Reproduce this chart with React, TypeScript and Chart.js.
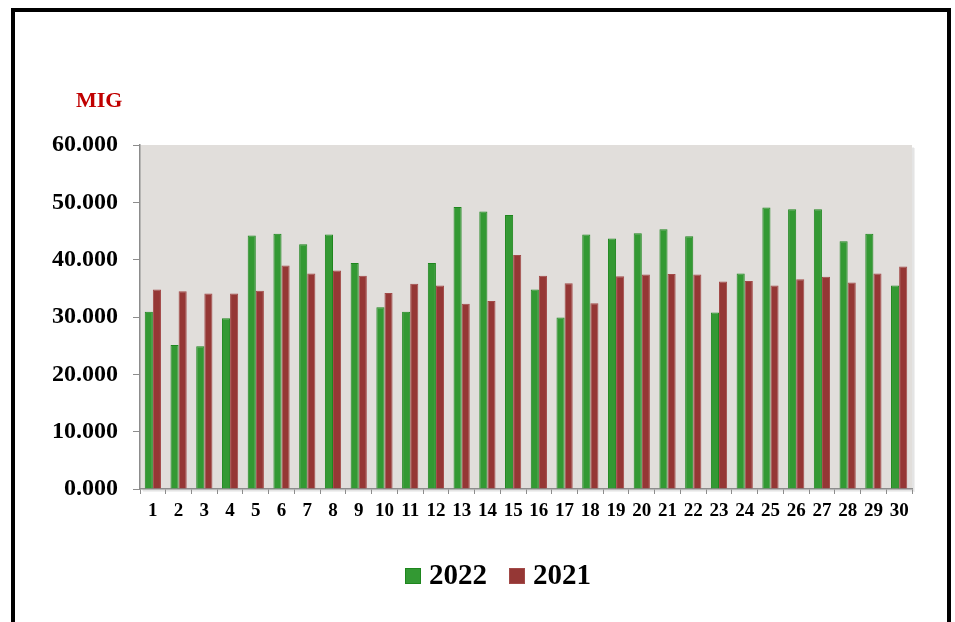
import React, { useEffect, useRef } from "react";
import { Chart, registerables } from "chart.js";

Chart.register(...registerables);

const categories = Array.from({ length: 30 }, (_, i) => String(i + 1));

const series2022 = [
  30.9, 25.1, 24.9, 29.8, 44.2, 44.5, 42.7, 44.4, 39.4, 31.7,
  30.9, 39.4, 49.2, 48.4, 47.8, 34.8, 29.9, 44.4, 43.7, 44.6,
  45.3, 44.1, 30.8, 37.6, 49.1, 48.8, 48.8, 43.2, 44.5, 35.5,
];

const series2021 = [
  34.8, 34.5, 34.1, 34.1, 34.6, 39.0, 37.6, 38.1, 37.2, 34.2,
  35.8, 35.5, 32.3, 32.8, 40.8, 37.2, 35.9, 32.4, 37.1, 37.4,
  37.5, 37.4, 36.2, 36.3, 35.5, 36.6, 37.0, 36.0, 37.6, 38.8,
];

const yTicks = [0, 10, 20, 30, 40, 50, 60];
const unitLabel = "MIG";
const seriesNames = ["2022", "2021"];
const seriesColors = ["#339933", "#953735"];
const seriesBorders = ["#1E861E", "#A24A48"];

const FONT = "'Liberation Serif', 'Times New Roman', serif";

const decorPlugin = {
  id: "decor",
  beforeDraw(chart: any) {
    const { ctx, chartArea } = chart;
    const { left, top, right, bottom } = chartArea;
    ctx.save();
    ctx.fillStyle = "rgba(0,0,0,0.06)";
    ctx.fillRect(left + 3, top + 3, right - left, bottom - top);
    ctx.fillStyle = "rgba(0,0,0,0.05)";
    ctx.fillRect(left + 2, top + 2, right - left, bottom - top);
    ctx.fillStyle = "#E1DEDB";
    ctx.fillRect(left, top, right - left, bottom - top);
    ctx.restore();
  },
  afterDraw(chart: any) {
    const { ctx, chartArea } = chart;
    ctx.save();
    // unit label
    ctx.fillStyle = "#C00000";
    ctx.font = `bold 22px ${FONT}`;
    ctx.textAlign = "left";
    ctx.textBaseline = "alphabetic";
    ctx.fillText(unitLabel, chartArea.left - 64, chartArea.top - 38);

    // legend
    const ds = chart.data.datasets;
    ctx.font = `bold 29px ${FONT}`;
    const box = 16;
    const gap = 8;
    const itemGap = 22;
    const widths = ds.map((d: any) => box + gap + ctx.measureText(d.label).width);
    const total = widths.reduce((a: number, b: number) => a + b, 0) + itemGap * (ds.length - 1);
    const cx = (chartArea.left + chartArea.right) / 2 - 28;
    const cy = chartArea.bottom + 87;
    let x = cx - total / 2;
    ds.forEach((d: any, i: number) => {
      ctx.fillStyle = d.backgroundColor;
      ctx.fillRect(x, cy - box / 2, box, box);
      ctx.strokeStyle = d.borderColor;
      ctx.lineWidth = 1;
      ctx.strokeRect(x + 0.5, cy - box / 2 + 0.5, box - 1, box - 1);
      ctx.fillStyle = "#000";
      ctx.textBaseline = "middle";
      ctx.fillText(d.label, x + box + gap, cy + 1);
      x += widths[i] + itemGap;
    });
    ctx.restore();
  },
};

export default function App() {
  const canvasRef = useRef<HTMLCanvasElement | null>(null);

  useEffect(() => {
    const canvas = canvasRef.current;
    if (!canvas) return;
    const chart = new Chart(canvas, {
      type: "bar",
      data: {
        labels: categories,
        datasets: [
          {
            label: seriesNames[0],
            data: series2022,
            backgroundColor: seriesColors[0],
            borderColor: seriesBorders[0],
            borderWidth: 1,
          },
          {
            label: seriesNames[1],
            data: series2021,
            backgroundColor: seriesColors[1],
            borderColor: seriesBorders[1],
            borderWidth: 1,
          },
        ],
      },
      options: {
        responsive: false,
        animation: false,
        devicePixelRatio: 1,
        layout: { padding: { top: 145, right: 43, left: 20, bottom: 101 } },
        datasets: {
          bar: { categoryPercentage: 0.63, barPercentage: 1 },
        },
        scales: {
          x: {
            afterFit(scale: any) {
              scale.height = 32;
            },
            grid: {
              display: true,
              drawOnChartArea: false,
              drawTicks: true,
              tickLength: 5,
              color: "#8C8C8C",
              offset: true,
            },
            border: { display: true, color: "#8C8C8C", width: 1.5 },
            ticks: {
              color: "#000",
              font: { family: FONT, size: 19, weight: "bold" },
              padding: 6,
              maxRotation: 0,
              autoSkip: false,
            },
          },
          y: {
            min: 0,
            max: 60,
            afterFit(scale: any) {
              scale.width = 120;
            },
            afterBuildTicks(scale: any) {
              scale.ticks = yTicks.map((v) => ({ value: v }));
            },
            grid: {
              display: true,
              drawOnChartArea: false,
              drawTicks: true,
              tickLength: 7,
              color: "#8C8C8C",
            },
            border: { display: true, color: "#8C8C8C", width: 1.5 },
            ticks: {
              color: "#000",
              font: { family: FONT, size: 24, weight: "bold" },
              padding: 15,
              callback: (v: any) => Number(v).toFixed(3),
            },
          },
        },
        plugins: {
          legend: { display: false },
          tooltip: { enabled: false },
          title: { display: false },
        },
      },
      plugins: [decorPlugin],
    });
    return () => chart.destroy();
  }, []);

  return (
    <div
      style={{
        position: "absolute",
        left: 0,
        top: 0,
        width: 955,
        height: 622,
        overflow: "hidden",
        background: "#fff",
      }}
    >
      <canvas
        ref={canvasRef}
        width={955}
        height={622}
        style={{ position: "absolute", left: 0, top: 0, width: 955, height: 622 }}
      />
      <div
        style={{
          position: "absolute",
          left: 11,
          top: 8,
          width: 932,
          height: 700,
          border: "4px solid #000",
          pointerEvents: "none",
        }}
      />
    </div>
  );
}
